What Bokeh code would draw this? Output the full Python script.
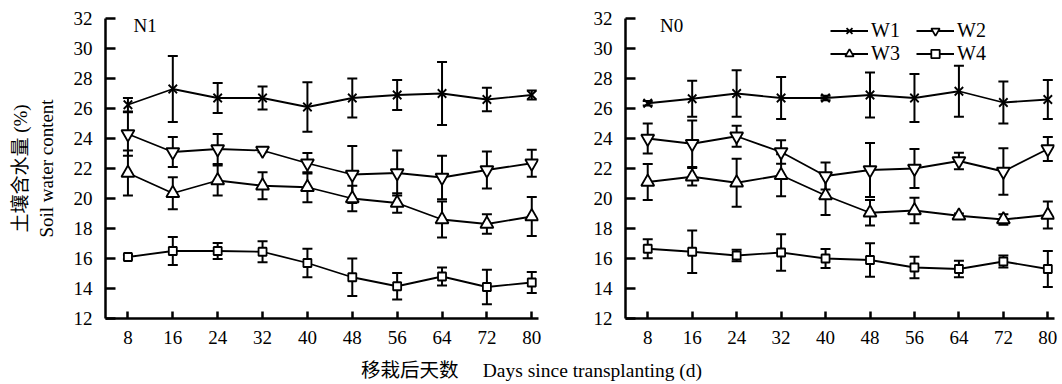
from bokeh.plotting import figure
from bokeh.models import (ColumnDataSource, Whisker, TeeHead, Legend, LegendItem, Label,
                          FixedTicker, LinearAxis, Range1d)
from bokeh.layouts import column, row
from bokeh.embed import file_html
from bokeh.resources import INLINE

# ---------------- data ----------------
days = [8, 16, 24, 32, 40, 48, 56, 64, 72, 80]
y_ticks = [12, 14, 16, 18, 20, 22, 24, 26, 28, 30, 32]
series_names = ["W1", "W2", "W3", "W4"]

# N1 panel
n1_w1 = [26.25, 27.3, 26.7, 26.7, 26.1, 26.7, 26.9, 27.0, 26.6, 26.9]
n1_w1_err = [0.45, 2.2, 1.0, 0.77, 1.65, 1.3, 1.0, 2.1, 0.78, 0.3]
n1_w2 = [24.3, 23.1, 23.3, 23.2, 22.35, 21.6, 21.7, 21.4, 21.9, 22.35]
n1_w2_err = [1.45, 1.0, 1.0, 0.12, 0.68, 1.9, 1.5, 1.45, 1.23, 0.9]
n1_w3 = [21.7, 20.35, 21.2, 20.85, 20.75, 20.0, 19.7, 18.6, 18.3, 18.8]
n1_w3_err = [1.5, 1.07, 1.0, 0.9, 1.0, 0.85, 0.65, 1.2, 0.65, 1.3]
n1_w4 = [16.1, 16.5, 16.5, 16.45, 15.7, 14.75, 14.15, 14.8, 14.1, 14.4]
n1_w4_err = [0.15, 0.93, 0.53, 0.7, 0.95, 1.25, 0.88, 0.6, 1.15, 0.7]

# N0 panel
n0_w1 = [26.35, 26.65, 27.0, 26.7, 26.7, 26.9, 26.7, 27.15, 26.4, 26.6]
n0_w1_err = [0.15, 1.2, 1.55, 1.4, 0.15, 1.5, 1.6, 1.7, 1.4, 1.3]
n0_w2 = [24.0, 23.65, 24.15, 23.1, 21.5, 21.9, 22.0, 22.5, 21.8, 23.3]
n0_w2_err = [1.0, 1.55, 0.7, 0.78, 0.9, 1.8, 1.3, 0.55, 1.55, 0.8]
n0_w3 = [21.1, 21.45, 21.05, 21.55, 20.2, 19.05, 19.2, 18.85, 18.6, 18.9]
n0_w3_err = [1.2, 0.58, 1.6, 1.4, 1.3, 0.85, 0.85, 0.15, 0.35, 0.9]
n0_w4 = [16.65, 16.45, 16.2, 16.4, 16.0, 15.9, 15.4, 15.3, 15.8, 15.3]
n0_w4_err = [0.63, 1.42, 0.38, 1.22, 0.63, 1.12, 0.72, 0.55, 0.4, 1.2]

# ---------------- style ----------------
SERIF = "Liberation Serif"
MIXED = "'Liberation Serif', 'Noto Sans CJK SC'"
markers = {"W1": ("x", 12), "W2": ("inverted_triangle", 13),
           "W3": ("triangle", 13), "W4": ("square", 8)}


def make_panel(width, border_left, border_right, data, errs, tag, tag_x, legend=False):
    p = figure(width=width, height=352, x_range=Range1d(4, 81.2), y_range=Range1d(12, 32),
               output_backend="svg", toolbar_location=None,
               min_border_left=border_left, min_border_right=border_right,
               min_border_top=18, min_border_bottom=34)
    p.xgrid.visible = False
    p.ygrid.visible = False
    p.outline_line_color = None
    p.background_fill_color = "white"

    p.xaxis.ticker = FixedTicker(ticks=days)
    p.yaxis.ticker = FixedTicker(ticks=y_ticks)
    for ax in (p.xaxis, p.yaxis):
        ax.axis_line_width = 2.5
        ax.axis_line_color = "black"
        ax.major_tick_line_width = 2.5
        ax.major_tick_line_color = "black"
        ax.minor_tick_line_color = None
        ax.major_tick_out = 0
        ax.major_label_text_font = SERIF
        ax.major_label_text_font_size = "19px"
        ax.major_label_text_color = "black"
    p.xaxis.major_label_standoff = 12
    p.yaxis.major_label_standoff = 13
    p.xaxis.major_tick_in = 7
    p.yaxis.major_tick_in = 10

    items = []
    for name, vals, err in zip(series_names, data, errs):
        src = ColumnDataSource(dict(x=days, y=vals,
                                    lo=[v - e for v, e in zip(vals, err)],
                                    hi=[v + e for v, e in zip(vals, err)]))
        w = Whisker(source=src, base="x", upper="hi", lower="lo", dimension="height",
                    line_color="black", line_width=2, level="underlay",
                    upper_head=TeeHead(size=10, line_width=2, line_color="black"),
                    lower_head=TeeHead(size=10, line_width=2, line_color="black"))
        p.add_layout(w)
        lr = p.line("x", "y", source=src, line_color="black", line_width=1.8)
        mk, sz = markers[name]
        sr = p.scatter("x", "y", source=src, marker=mk, size=sz, line_color="black",
                       line_width=1.8, fill_color="white")
        items.append(LegendItem(label=name, renderers=[lr, sr]))

    p.add_layout(Label(x=tag_x, y=31.55, text=tag, text_font=SERIF, text_font_size="19px",
                       text_baseline="middle", text_align="left", text_color="black"))

    if legend:
        lg = Legend(items=items, location=(205, 253), orientation="horizontal", ncols=2,
                    glyph_width=38, glyph_height=21, label_standoff=3, label_width=45,
                    spacing=0, padding=0, margin=0, border_line_color=None,
                    background_fill_alpha=0, label_text_font=SERIF,
                    label_text_font_size="20px", label_text_color="black")
        p.add_layout(lg)
    return p


p1 = make_panel(565, 105, 27,
                [n1_w1, n1_w2, n1_w3, n1_w4], [n1_w1_err, n1_w2_err, n1_w3_err, n1_w4_err],
                "N1", 9.0)
p1.yaxis.axis_label = "Soil water content"
p1.yaxis.axis_label_text_font = SERIF
p1.yaxis.axis_label_text_font_size = "19px"
p1.yaxis.axis_label_text_font_style = "normal"
p1.yaxis.axis_label_text_color = "black"
p1.yaxis.axis_label_standoff = 14
outer = LinearAxis(ticker=FixedTicker(ticks=[]), axis_label="土壤含水量 (%)",
                   axis_line_color=None, major_tick_line_color=None,
                   minor_tick_line_color=None, major_tick_in=0, major_tick_out=0,
                   major_label_standoff=0, major_label_text_font_size="0px",
                   axis_label_standoff=2, axis_label_text_font=MIXED,
                   axis_label_text_font_size="19px", axis_label_text_font_style="normal",
                   axis_label_text_color="black")
p1.add_layout(outer, "left")

p2 = make_panel(497, 60, 8,
                [n0_w1, n0_w2, n0_w3, n0_w4], [n0_w1_err, n0_w2_err, n0_w3_err, n0_w4_err],
                "N0", 10.2, legend=True)

p3 = figure(width=1062, height=32, x_range=Range1d(0, 1), y_range=Range1d(0, 1),
            output_backend="svg", toolbar_location=None, min_border=0)
p3.axis.visible = False
p3.xgrid.visible = False
p3.ygrid.visible = False
p3.outline_line_color = None
p3.add_layout(Label(x=0.5, y=0.1, text="移栽后天数\u2003 Days since transplanting (d)",
                    text_font=MIXED, text_font_size="19.5px", text_align="center",
                    text_baseline="bottom", text_color="black"))

layout = column(row(p1, p2), p3)
open("out.html", "w").write(file_html(layout, INLINE))
